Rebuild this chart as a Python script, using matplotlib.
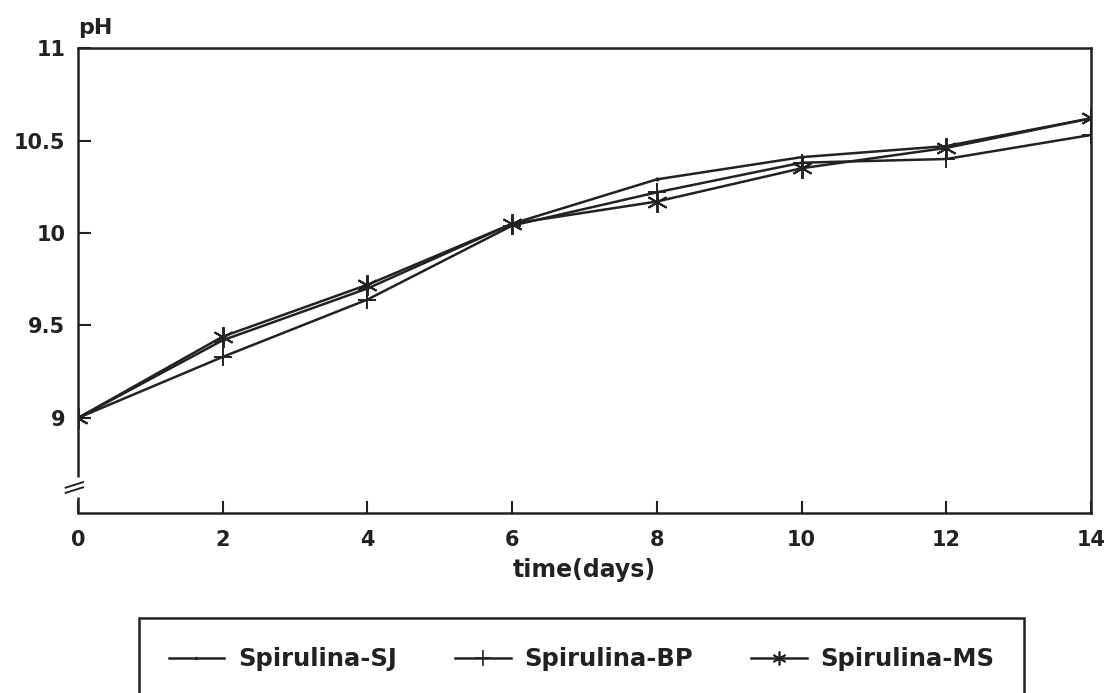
import matplotlib
matplotlib.use("Agg")
import matplotlib.pyplot as plt
from matplotlib.lines import Line2D

days = [0, 2, 4, 6, 8, 10, 12, 14]
ph_sj = [9.00, 9.42, 9.70, 10.05, 10.29, 10.41, 10.47, 10.62]
ph_bp = [9.00, 9.33, 9.64, 10.04, 10.22, 10.38, 10.40, 10.53]
ph_ms = [9.00, 9.44, 9.72, 10.05, 10.17, 10.35, 10.46, 10.62]
labels = ["Spirulina-SJ", "Spirulina-BP", "Spirulina-MS"]
xticks = [0, 2, 4, 6, 8, 10, 12, 14]
yticks = [9, 9.5, 10, 10.5, 11]
yticklabels = ["9", "9.5", "10", "10.5", "11"]

plt.rcParams['font.family'] = ['DejaVu Sans']
plt.rcParams['font.weight'] = 'bold'
plt.rcParams['axes.labelweight'] = 'bold'
INK = '#222222'

fig = plt.figure(figsize=(11.09, 6.93), dpi=100)
ax = fig.add_axes([0.0703, 0.2597, 0.9135, 0.671])

ax.plot(days, ph_sj, color=INK, lw=1.8, marker='.', ms=4, label=labels[0])
ax.plot(days, ph_bp, color=INK, lw=1.8, marker='+', ms=13, mew=1.4, label=labels[1])
ax.plot(days, ph_ms, color=INK, lw=1.8, marker=(6, 2, 0), ms=15, mew=1.4, label=labels[2])

ax.set_xlim(0, 14)
ax.set_ylim(8.486, 11)
ax.set_xticks(xticks)
ax.set_xticklabels([str(t) for t in xticks])
ax.set_yticks(yticks)
ax.set_yticklabels(yticklabels)
ax.tick_params(direction='in', length=9, width=1.5, labelsize=15, colors=INK, pad=9)
ax.tick_params(axis='x', pad=12)
for s in ax.spines.values():
    s.set_linewidth(1.8)
    s.set_color(INK)

# left spine with a break
ax.spines['left'].set_visible(False)
yt = ax.get_yaxis_transform()
ax.plot([0, 0], [8.68, 11], transform=yt, color=INK, lw=1.8, clip_on=False, solid_capstyle='butt')
ax.plot([0, 0], [8.486, 8.573], transform=yt, color=INK, lw=1.8, clip_on=False, solid_capstyle='butt')
for dy in (0.0, 0.028):
    ax.plot([-0.17, 0.07], [8.595 + dy, 8.625 + dy], color=INK, lw=1.4, clip_on=False)

ax.set_xlabel("time(days)", fontsize=17, labelpad=6, color=INK, fontweight='bold')
ax.text(0, 11.11, "pH", fontsize=16, ha='left', va='center', color=INK, fontweight='bold')

handles = [
    Line2D([], [], color=INK, lw=1.8, marker='.', ms=3),
    Line2D([], [], color=INK, lw=1.8, marker='+', ms=11, mew=1.2),
    Line2D([], [], color=INK, lw=1.8, marker=(6, 2, 0), ms=10, mew=1.2),
]
leg = fig.legend(handles, labels, loc='upper center', bbox_to_anchor=(0.5244, 1 - 618 / 693), ncol=3,
                 frameon=True, fancybox=False, edgecolor=INK, framealpha=1, fontsize=17.5,
                 handlelength=2.3, columnspacing=2.4, borderpad=1.2, handletextpad=0.55,
                 borderaxespad=0)
leg.get_frame().set_linewidth(1.8)
for t in leg.get_texts():
    t.set_color(INK)

fig.savefig("out.png", dpi=100)
